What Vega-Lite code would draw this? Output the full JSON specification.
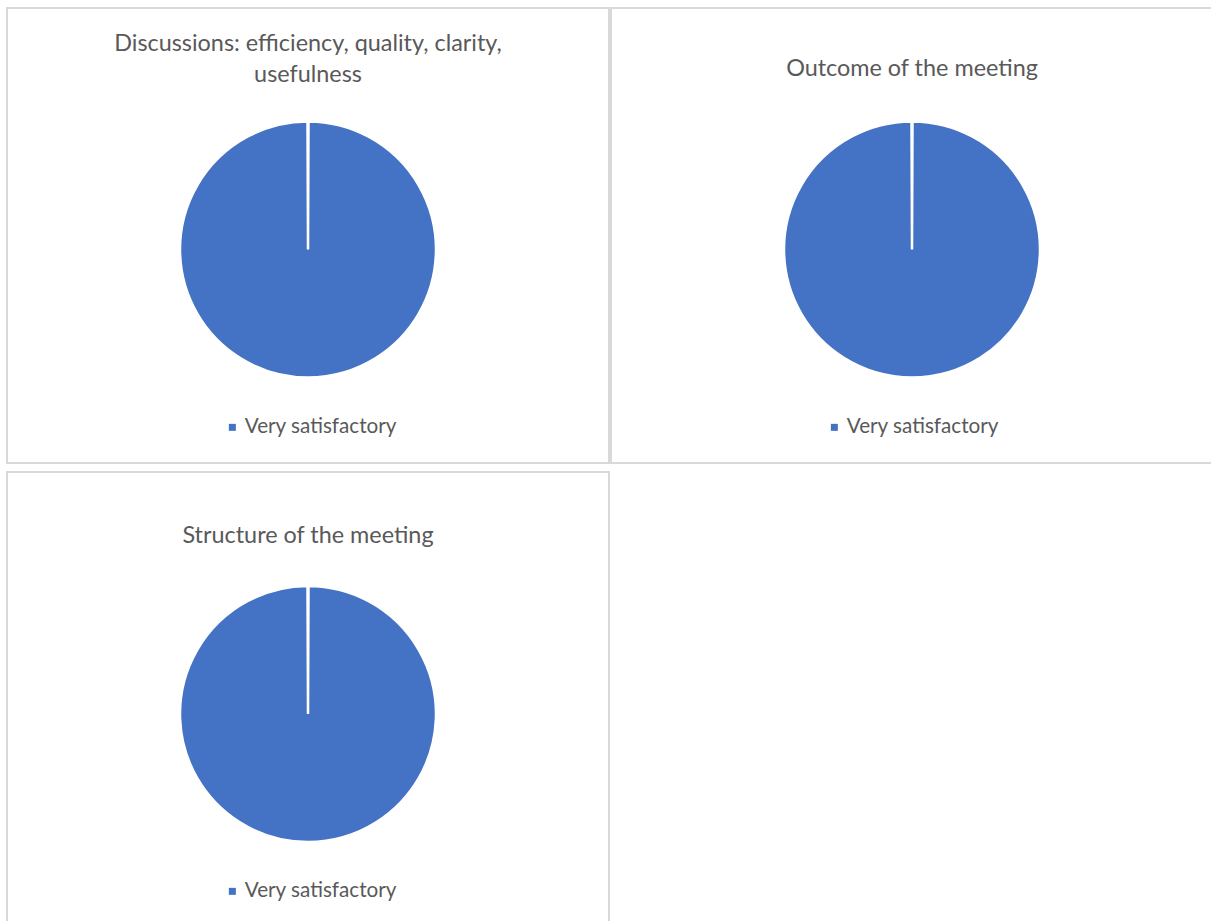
{
  "$schema": "https://vega.github.io/schema/vega-lite/v6.json",
  "padding": {"left": 6, "top": 7, "right": 0, "bottom": 0},
  "background": "white",
  "columns": 2,
  "spacing": {"row": 9, "column": 2},
  "bounds": "flush",
  "datasets": {
    "responses": [
      {"chart": "Discussions", "rating": "Very satisfactory", "share": 1},
      {"chart": "Outcome", "rating": "Very satisfactory", "share": 1},
      {"chart": "Structure", "rating": "Very satisfactory", "share": 1}
    ]
  },
  "concat": [
    {
      "width": 602, "height": 455,
      "view": {"stroke": "#d9d9d9", "strokeWidth": 2},
      "title": {"text": ["Discussions: efficiency, quality, clarity,", "usefulness"], "offset": -79.5},
      "data": {"name": "responses"},
      "transform": [{"filter": "datum.chart === 'Discussions'"}],
      "mark": {"type": "arc", "outerRadius": 128, "stroke": "white", "strokeWidth": 2.5, "yOffset": 14},
      "encoding": {
        "theta": {"field": "share", "type": "quantitative", "stack": true, "scale": {"domain": [0, 1], "range": [0.004, 6.279185]}},
        "color": {"field": "rating", "type": "nominal", "scale": {"range": ["#4472C4"]}, "legend": {"orient": "none", "legendX": 215, "legendY": 409}}
      }
    },
    {
      "width": 602, "height": 455,
      "view": {"stroke": "#d9d9d9", "strokeWidth": 2},
      "title": {"text": "Outcome of the meeting", "offset": -73},
      "data": {"name": "responses"},
      "transform": [{"filter": "datum.chart === 'Outcome'"}],
      "mark": {"type": "arc", "outerRadius": 128, "stroke": "white", "strokeWidth": 2.5, "yOffset": 14},
      "encoding": {
        "theta": {"field": "share", "type": "quantitative", "stack": true, "scale": {"domain": [0, 1], "range": [0.004, 6.279185]}},
        "color": {"field": "rating", "type": "nominal", "scale": {"range": ["#4472C4"]}, "legend": {"orient": "none", "legendX": 213, "legendY": 409}}
      }
    },
    {
      "width": 602, "height": 456,
      "view": {"stroke": "#d9d9d9", "strokeWidth": 2},
      "title": {"text": "Structure of the meeting", "offset": -76},
      "data": {"name": "responses"},
      "transform": [{"filter": "datum.chart === 'Structure'"}],
      "mark": {"type": "arc", "outerRadius": 128, "stroke": "white", "strokeWidth": 2.5, "yOffset": 14},
      "encoding": {
        "theta": {"field": "share", "type": "quantitative", "stack": true, "scale": {"domain": [0, 1], "range": [0.004, 6.279185]}},
        "color": {"field": "rating", "type": "nominal", "scale": {"range": ["#4472C4"]}, "legend": {"orient": "none", "legendX": 215, "legendY": 409}}
      }
    }
  ],
  "resolve": {"scale": {"color": "independent", "theta": "independent"}, "legend": {"color": "independent"}},
  "config": {
    "view": {"stroke": "#d9d9d9", "strokeWidth": 2},
    "title": {"font": "Lato", "fontSize": 23.4, "fontWeight": "normal", "color": "#595959", "anchor": "middle", "frame": "group", "baseline": "alphabetic", "lineHeight": 31},
    "legend": {"title": null, "symbolType": "square", "symbolSize": 49, "symbolStrokeWidth": 0, "labelFont": "Lato", "labelFontSize": 20.7, "labelColor": "#595959", "labelOffset": 2, "padding": 0}
  }
}
